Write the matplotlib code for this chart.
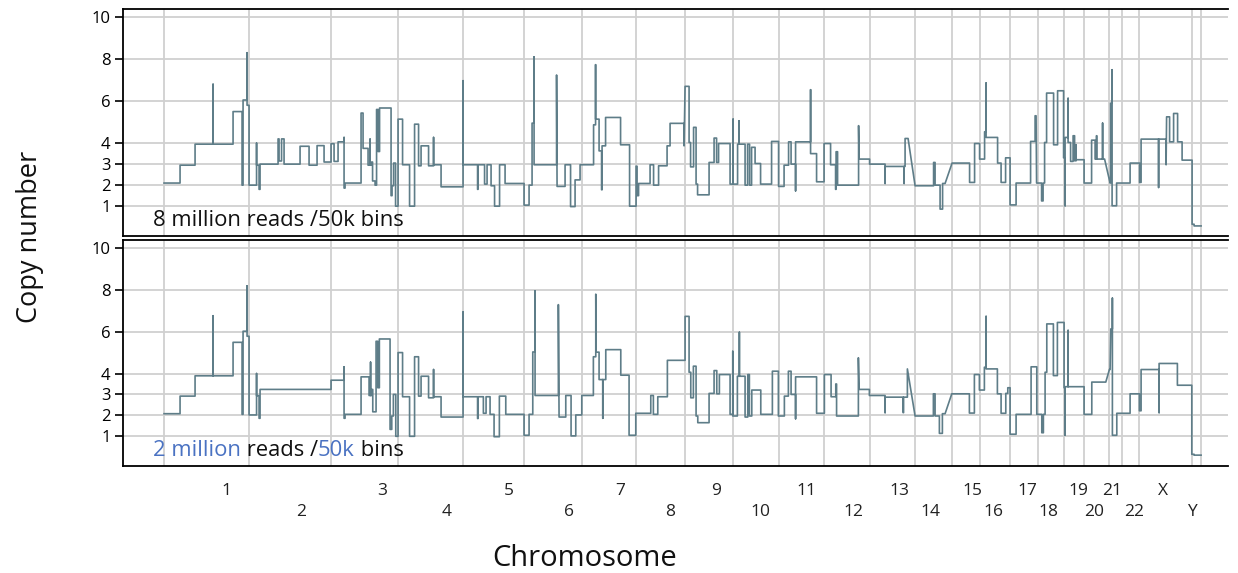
import matplotlib
matplotlib.use("Agg")
import matplotlib.pyplot as plt

plt.rcParams['font.family'] = ['Open Sans', 'DejaVu Sans']

# chromosome boundaries (cumulative genome position, units)
chrom_edges = [0, 85, 167, 234, 299, 360, 418, 472, 521, 569, 615, 660, 706,
               751, 788, 816, 846, 874, 900, 920, 945, 958, 975, 1028, 1037]
chrom_names = ['1', '2', '3', '4', '5', '6', '7', '8', '9', '10', '11', '12',
               '13', '14', '15', '16', '17', '18', '19', '20', '21', '22', 'X', 'Y']
label_pos = [62, 137, 218, 283, 345, 405, 456, 506, 552, 596, 642, 689,
             735, 766, 808, 829, 863, 884, 914, 930, 948, 970, 999, 1028]

# copy number segments, 8 million reads / 50k bins
top_start = [0, 16, 31, 49, 49, 69, 78, 79, 83, 83,                                  # 1
             85, 92.5, 92.5, 95, 96, 114, 115, 117.5, 120, 136, 145, 153, 160,         # 2
             167, 170, 174, 180, 180, 181, 197, 199, 204, 206, 206, 207.5, 208.5,      # 3
             211, 212.5, 214, 215.5, 227, 228, 229.5, 231.5,
             234, 238.5, 245.5, 250.5, 254.5, 257, 264.5, 269.5, 269.5, 277,           # 4
             299, 299, 313.5, 314, 320.5, 323, 327, 330.5, 335.5, 341,                # 5
             360, 365, 368, 370, 370, 392.5, 393, 401, 406.5, 411, 416,                # 6
             429.5, 431.5, 431.5, 435, 437.5, 438, 441.5, 456.5, 465.5,                # 7
             472, 473, 474.5, 486, 489.5, 494.5, 503, 506, 520,                        # 8
             521, 525, 526.5, 529.5, 532, 533.5, 545, 550, 552.5, 554.5, 566,          # 9
             569, 569, 573.5, 575, 575, 581, 583.5, 585.5, 587.5, 591, 596.5, 607.5,   # 10
             614.5,
             620, 624.5, 627, 631.5, 631.5, 646.5, 646.5, 652.5,                       # 11
             660, 666.5, 671.5, 672, 673.5, 694.5, 695,                                # 12
             705.5, 721, 721, 740, 740, 741,                                           # 13
             751, 769.5, 771, 776, 778.5,                                              # 14
             788, 805.5, 810.5,                                                        # 15
             815.5, 820.5, 822, 822, 833.5, 837, 841.5,                                # 16
             846, 852, 866.5, 871, 872.5,                                              # 17
             877.5, 879, 880.5, 882.5, 889.5, 893.5, 899.5,                            # 18
             901, 901, 904, 904, 906.5, 909, 910.5, 912, 912,                          # 19
             920, 927.5, 931, 932.5, 932.5, 938.5, 938.5,                              # 20
             946, 946.5, 948, 948, 952.5,                                              # 21
             966, 975.5,                                                               # 22
             977, 994.5, 994.5, 1002, 1002.5, 1005.5, 1009.5, 1013.5, 1018,            # X
             1028, 1030]                                                               # Y
top_end = [16, 31, 49, 49, 69, 78, 79, 83, 83, 85,
           92.5, 92.5, 95, 96, 114, 115, 117.5, 120, 136, 145, 153, 160, 167,
           170, 174, 180, 180, 181, 197, 199, 204, 206, 206, 207.5, 208.5, 211,
           212.5, 214, 215.5, 227, 228, 229.5, 231.5, 234,
           238.5, 245.5, 250.5, 254.5, 257, 264.5, 269.5, 269.5, 277, 299,
           299, 313.5, 314, 320.5, 323, 327, 330.5, 335.5, 341, 360,
           365, 368, 370, 370, 392.5, 392.5, 401, 406.5, 411, 416, 429.5,
           431.5, 431.5, 435, 437.5, 438, 441.5, 456.5, 465.5, 472,
           473, 474.5, 486, 489.5, 494.5, 503, 506, 520, 520,
           525, 526.5, 529.5, 532, 533.5, 545, 550, 552.5, 554.5, 566, 569,
           569, 573.5, 575, 575, 581, 583.5, 585.5, 587.5, 591, 596.5, 607.5, 614.5,
           620,
           624.5, 627, 631.5, 631.5, 646.5, 646.5, 652.5, 660,
           666.5, 671.5, 672, 673.5, 694.5, 694.5, 705.5,
           721, 721, 740, 740, 741, 744,
           769.5, 771, 776, 778.5, 781,
           805.5, 810.5, 815.5,
           820.5, 822, 822, 833.5, 837, 841.5, 846,
           852, 866.5, 871, 872, 877.5,
           879, 880.5, 882.5, 889.5, 893.5, 899.5, 901,
           901, 904, 904, 906.5, 909, 910.5, 912, 912, 920,
           927.5, 931, 932.5, 932.5, 938.5, 938.5, 940.5,
           946.5, 948, 948, 952.5, 966,
           975.5, 977,
           994.5, 994.5, 1002, 1002, 1005.5, 1009.5, 1013.5, 1018, 1028,
           1030, 1037]
top_cn = [2.1, 2.95, 3.95, 6.8, 3.95, 5.5, 2.0, 6.05, 8.3, 5.8,
          2.0, 4.0, 2.95, 1.8, 3.0, 4.2, 3.15, 4.2, 3.0, 3.85, 2.95, 3.88, 3.1,
          3.97, 3.13, 4.06, 4.27, 1.86, 2.1, 5.43, 3.75, 2.95, 4.19, 2.95, 3.1, 2.2,
          2.0, 5.6, 3.6, 5.67, 1.5, 1.97, 3.05, 1.0,
          5.14, 2.97, 1.0, 4.9, 2.92, 3.87, 2.92, 4.27, 2.97, 1.92,
          6.97, 2.97, 1.8, 2.97, 2.05, 2.97, 1.97, 1.0, 2.97, 2.08,
          1.05, 2.0, 4.95, 8.1, 2.97, 7.24, 1.94, 2.97, 0.98, 2.25, 2.97,
          4.87, 7.73, 5.14, 3.63, 1.78, 3.87, 5.22, 3.92, 1.0,
          2.9, 1.5, 2.08, 2.97, 2.0, 2.92, 3.87, 4.94, 3.87,
          6.7, 4.03, 2.87, 4.75, 2.05, 1.54, 3.08, 4.24, 3.08, 3.98, 2.05,
          5.14, 2.05, 3.95, 5.06, 3.95, 2.0, 3.95, 2.0, 3.8, 3.03, 2.05, 4.08,
          1.94,
          2.95, 4.06, 3.0, 1.73, 4.06, 6.54, 3.5, 2.16,
          3.98, 2.97, 1.8, 3.59, 2.0, 4.83, 3.24,
          3.0, 2.08, 2.89, 2.08, 2.89, 4.22,
          1.97, 3.08, 2.0, 0.86, 2.08,
          3.05, 2.13, 3.98,
          3.24, 4.54, 6.86, 4.27, 3.05, 2.13, 3.3,
          1.06, 2.1, 4.08, 5.3, 2.1,
          1.25, 2.1, 4.03, 6.38, 3.92, 6.49, 3.3,
          1.02, 4.27, 6.13, 4.03, 3.13, 4.35, 3.16, 3.92, 3.21,
          2.1, 4.14, 3.24, 4.35, 3.24, 4.95, 3.24,
          2.1, 5.9, 7.49, 1.02, 2.1,
          3.05, 2.13,
          4.19, 1.89, 4.19, 2.97, 5.25, 4.06, 5.41, 4.06, 3.19,
          0.14, 0.06]

# copy number segments, 2 million reads / 50k bins
bot_start = [0, 16, 31, 49, 49, 69, 78, 79, 83, 83,                                  # 1
             85, 92.5, 92.5, 95, 96,                                                   # 2
             167, 180, 180, 181, 197, 205, 206.5, 206.5, 207.7, 208.7, 212, 213.7,     # 3
             215.3, 226, 227.7, 229.3, 231.7,
             234, 238.5, 245.5, 250.5, 254.5, 257, 264.5, 269.5, 269.5, 277,           # 4
             299, 299, 313.5, 314, 319.3, 322, 326, 330, 335.3, 341.7,                 # 5
             360, 365, 368.7, 371, 371, 394.3, 395, 401.7, 407, 411.7, 417.7,          # 6
             429.3, 431.7, 432, 435, 438.7, 438.7, 441.7, 456.7, 465,                  # 7
             471.7, 486.7, 489.3, 493.7, 503.3,                                        # 8
             521, 525, 526.7, 529.3, 532, 533.7, 545, 550, 552.7, 555.3, 566,          # 9
             568.7, 568.7, 573.3, 575.3, 575.3, 581, 583.7, 585.3, 587.7, 596.7,       # 10
             608.3, 614.3,
             620.3, 624.3, 627, 631.5, 631.5, 652.5,                                   # 11
             660.3, 667, 671.7, 672.5, 694.3, 695,                                     # 12
             705.3, 721, 721, 739, 739.5, 741, 743.3,                                  # 13
             751, 769.3, 771, 775.3, 778.3,                                            # 14
             787.7, 805.3, 810.3,                                                      # 15
             815.3, 820.3, 822, 822, 833.3, 837, 841.7, 843.7,                         # 16
             846, 852, 867, 872.7,                                                     # 17
             877.7, 879.3, 881, 882.7, 889.3, 893.3, 900,                              # 18
             901, 901, 904, 904,                                                       # 19
             920, 927.7,                                                               # 20
             945.3, 946.7, 948.3, 948.3, 952.7,                                        # 21
             966, 975.3,                                                               # 22
             977, 995, 995, 1013.3,                                                    # X
             1027.7, 1030]                                                             # Y
bot_end = [16, 31, 49, 49, 69, 78, 79, 83, 83, 85,
           92.5, 92.5, 95, 96, 167,
           180, 180, 181, 197, 205, 206.5, 206.5, 207.7, 208.7, 212, 213.7, 215.3,
           226, 227.7, 229.3, 231.7, 234,
           238.5, 245.5, 250.5, 254.5, 257, 264.5, 269.5, 269.5, 277, 299,
           299, 313.5, 314, 319.3, 322, 326, 330, 335.3, 341.7, 360,
           365, 368.7, 371, 371, 394.3, 394.3, 401.7, 407, 411.7, 417.7, 429.3,
           431.7, 431.7, 435, 438.7, 438.7, 441.7, 456.7, 465, 471.7,
           486.7, 489.3, 493.7, 503.3, 521,
           525, 526.7, 529.3, 532, 533.7, 545, 550, 552.7, 555.3, 566, 568.7,
           568.7, 573.3, 575.3, 575.3, 581, 583.7, 585.3, 587.7, 596.7, 608.3,
           614.3, 620.3,
           624.3, 627, 631.5, 631.5, 652.5, 660.3,
           667, 671.7, 672.5, 694.3, 694.3, 705.3,
           721, 721, 739, 739.5, 741, 743.3, 743.3,
           769.3, 771, 775.3, 778.3, 781,
           805.3, 810.3, 815.3,
           820.3, 822, 822, 833.3, 837, 841.7, 843.7, 846,
           852, 867, 872.7, 877.7,
           879.3, 881, 882.7, 889.3, 893.3, 900, 901,
           901, 904, 904, 920,
           927.7, 941.7,
           946, 948.3, 948.3, 952.7, 966,
           975.3, 977,
           995, 995, 1013.3, 1027.7,
           1030, 1037]
bot_cn = [2.08, 2.92, 3.89, 6.76, 3.89, 5.49, 2.05, 6.02, 8.19, 5.78,
          2.02, 4.0, 2.94, 1.86, 3.24,
          3.68, 4.32, 1.86, 2.05, 3.84, 2.95, 4.54, 2.95, 3.24, 2.17, 5.54, 3.32,
          5.65, 1.33, 1.97, 3.0, 1.0,
          5.0, 2.89, 1.0, 4.8, 2.92, 3.87, 2.84, 4.19, 2.89, 1.92,
          6.94, 2.89, 1.85, 2.89, 2.1, 2.89, 2.05, 0.98, 2.92, 2.05,
          1.05, 2.05, 5.03, 7.95, 2.95, 7.29, 1.92, 2.95, 1.02, 2.02, 2.95,
          4.8, 7.79, 5.02, 3.71, 1.86, 3.71, 5.14, 3.92, 1.05,
          2.1, 2.95, 2.05, 2.89, 4.63,
          6.73, 4.06, 2.84, 4.35, 1.97, 1.65, 3.05, 4.14, 3.03, 3.95, 2.05,
          5.06, 1.97, 3.87, 5.97, 3.87, 1.92, 3.95, 1.97, 3.21, 2.05,
          4.11, 1.97,
          2.92, 4.11, 3.0, 1.84, 3.84, 2.1,
          3.95, 2.89, 3.5, 1.97, 4.75, 3.24,
          2.95, 2.13, 2.87, 2.13, 2.87, 2.87, 4.22,
          1.97, 3.03, 1.97, 1.14, 2.08,
          3.03, 2.11, 3.95,
          3.21, 4.3, 6.73, 4.22, 3.03, 2.1, 3.05, 3.32,
          1.1, 2.05, 4.32, 2.05,
          1.17, 2.05, 4.06, 6.37, 3.9, 6.44, 3.32,
          1.05, 3.37, 6.06, 3.37,
          2.05, 3.59,
          4.19, 6.13, 7.6, 1.05, 2.1,
          3.03, 2.22,
          4.19, 2.13, 4.48, 3.44,
          0.14, 0.1]

y_ticks = [1, 2, 3, 4, 6, 8, 10]

line_color = '#5e7d88'
blue = '#4a72c2'

fig = plt.figure(figsize=(12.38, 5.73), dpi=100)
ax_top = fig.add_axes([0.0994, 0.5881, 0.8926, 0.3962])
ax_bot = fig.add_axes([0.0994, 0.1867, 0.8926, 0.3945])


def trace(starts, ends, cns):
    xs, ys = [], []
    for s, e, v in zip(starts, ends, cns):
        xs += [s, e]
        ys += [v, v]
    return xs, ys


for ax, (s, e, c) in [(ax_top, (top_start, top_end, top_cn)),
                      (ax_bot, (bot_start, bot_end, bot_cn))]:
    ax.set_xlim(-41, 1064)
    ax.set_ylim(-0.42, 10.38)
    for yv in y_ticks:
        ax.axhline(yv, color='#d0d0d0', lw=1.3, zorder=0)
    for xv in chrom_edges:
        ax.axvline(xv, color='#d0d0d0', lw=1.3, zorder=0)
    xs, ys = trace(s, e, c)
    ax.plot(xs, ys, color=line_color, lw=1.2, zorder=2)
    ax.set_yticks(y_ticks)
    ax.set_yticklabels([str(t) for t in y_ticks])
    ax.tick_params(axis='y', length=6, width=1.2, labelsize=12, pad=3)
    ax.set_xticks([])
    ax.spines['right'].set_visible(False)
    for sp in ['left', 'top', 'bottom']:
        ax.spines[sp].set_linewidth(1.3)

# panel labels
fs = 15.8
ax_top.text(-11, 0.05, '8 million reads /50k bins', fontsize=fs, color='#111111',
            ha='left', va='baseline')
t1 = ax_bot.text(-11, 0.05, '2 million', fontsize=fs, color=blue,
                 ha='left', va='baseline')
t2 = ax_bot.annotate(' reads /', xy=(1, 0), xycoords=t1, fontsize=fs,
                     color='#111111', ha='left', va='bottom')
t3 = ax_bot.annotate('50k', xy=(1, 0), xycoords=t2, fontsize=fs,
                     color=blue, ha='left', va='bottom')
ax_bot.annotate(' bins', xy=(1, 0), xycoords=t3, fontsize=fs,
                color='#111111', ha='left', va='bottom')

# chromosome labels in two staggered rows
for i, (name, xp) in enumerate(zip(chrom_names, label_pos)):
    yrow = -0.111 if i % 2 == 0 else -0.204
    ax_bot.text(xp, yrow, name, transform=ax_bot.get_xaxis_transform(),
                fontsize=12.5, color='#222222', ha='center', va='center')

fig.text(0.0242, 0.586, 'Copy number', rotation=90, fontsize=19.5,
         ha='center', va='center', color='#111111')
fig.text(0.4725, 0.026, 'Chromosome', fontsize=21, ha='center', va='center',
         color='#111111')

fig.savefig('out.png', dpi=100)
